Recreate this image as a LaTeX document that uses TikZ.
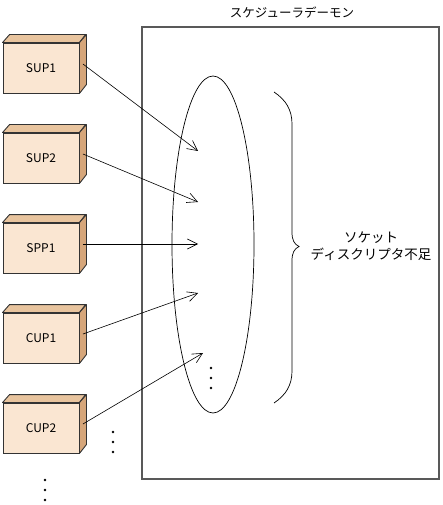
\documentclass[tikz,border=0pt]{standalone}
\usepackage{fontspec}
\setmainfont{Noto Sans CJK JP}
\usetikzlibrary{shapes.geometric, arrows.meta}

\definecolor{boxfront}{RGB}{250,230,210}
\definecolor{boxtop}{RGB}{232,196,158}
\definecolor{boxside}{RGB}{214,166,122}

\tikzset{
    proc/.style = {draw = black!80, fill = boxfront, rectangle, minimum width = 76pt, minimum height = 50pt, inner sep = 0pt, line width = 0.9pt, font = \fontsize{12}{14}\selectfont},
    topface/.style = {draw = black!80, fill = boxtop, line width = 0.9pt, line join = round},
    sideface/.style = {draw = black!80, fill = boxside, line width = 0.9pt, line join = round},
    conn/.style = {-{Straight Barb[length = 10pt, width = 10pt]}, line width = 0.6pt},
    dot/.style = {fill = black, circle, inner sep = 0pt, minimum size = 2.8pt},
}

\begin{document}
\begin{tikzpicture}[x = 1pt, y = -1pt, font = \fontsize{12.5}{17}\selectfont]
        \useasboundingbox (0, 0) rectangle (443, 505);

        % Daemon
        \node [draw = black!65, line width = 1.2pt, minimum width = 297pt, minimum height = 452pt] (daemon) at (290.5, 253) {};
        \node (title) at (292, 13) {スケジューラデーモン};
        \node [draw, ellipse, line width = 0.7pt, minimum width = 82pt, minimum height = 337pt, inner sep = 0pt] (sock) at (213, 244.5) {};

        % Processes
        \node [proc] (sup1) at (41, 68) {SUP1};
        \node [proc] (sup2) at (41, 158) {SUP2};
        \node [proc] (spp1) at (41, 248) {SPP1};
        \node [proc] (cup1) at (41, 338) {CUP1};
        \node [proc] (cup2) at (41, 428) {CUP2};

        % Box faces
        \draw [topface] (sup1.north west) -- ++(7, -8) -- ++(76, 0) -- (sup1.north east) -- cycle;
        \draw [sideface] (sup1.north east) -- ++(7, -8) -- ++(0, 50) -- (sup1.south east) -- cycle;
        \draw [topface] (sup2.north west) -- ++(7, -8) -- ++(76, 0) -- (sup2.north east) -- cycle;
        \draw [sideface] (sup2.north east) -- ++(7, -8) -- ++(0, 50) -- (sup2.south east) -- cycle;
        \draw [topface] (spp1.north west) -- ++(7, -8) -- ++(76, 0) -- (spp1.north east) -- cycle;
        \draw [sideface] (spp1.north east) -- ++(7, -8) -- ++(0, 50) -- (spp1.south east) -- cycle;
        \draw [topface] (cup1.north west) -- ++(7, -8) -- ++(76, 0) -- (cup1.north east) -- cycle;
        \draw [sideface] (cup1.north east) -- ++(7, -8) -- ++(0, 50) -- (cup1.south east) -- cycle;
        \draw [topface] (cup2.north west) -- ++(7, -8) -- ++(76, 0) -- (cup2.north east) -- cycle;
        \draw [sideface] (cup2.north east) -- ++(7, -8) -- ++(0, 50) -- (cup2.south east) -- cycle;

        % Targets
        \coordinate (t1) at (198, 151);
        \coordinate (t2) at (198, 202);
        \coordinate (t3) at (198, 244);
        \coordinate (t4) at (198, 293);
        \coordinate (t5) at (203, 353);

        % Connections
        \draw [conn] ([shift = {(3.5, -4)}]sup1.east) -- (t1);
        \draw [conn] ([shift = {(3.5, -4)}]sup2.east) -- (t2);
        \draw [conn] ([shift = {(3.5, -4)}]spp1.east) -- (t3);
        \draw [conn] ([shift = {(3.5, -4)}]cup1.east) -- (t4);
        \draw [conn] ([shift = {(3.5, -4)}]cup2.east) -- (t5);

        % Brace
        \draw [line width = 0.7pt] (274, 92) .. controls (286, 100) and (292, 110) .. (292, 124) -- (292, 232) .. controls (292, 240) and (294, 244) .. (299, 246.5) .. controls (294, 249) and (292, 253) .. (292, 261) -- (292, 371) .. controls (292, 385) and (286, 395) .. (274, 403);
        \node [align = center, font = \fontsize{13.5}{17}\selectfont] (lack) at (371, 246) {ソケット\\ディスクリプタ不足};

        % Dots
        \node [dot] (e1) at (211, 368) {};
        \node [dot] (e2) at (211, 378) {};
        \node [dot] (e3) at (211, 388) {};
        \node [dot] (r1) at (113, 432) {};
        \node [dot] (r2) at (113, 442) {};
        \node [dot] (r3) at (113, 452) {};
        \node [dot] (b1) at (45, 480) {};
        \node [dot] (b2) at (45, 490) {};
        \node [dot] (b3) at (45, 500) {};

    \end{tikzpicture}
\end{document}
